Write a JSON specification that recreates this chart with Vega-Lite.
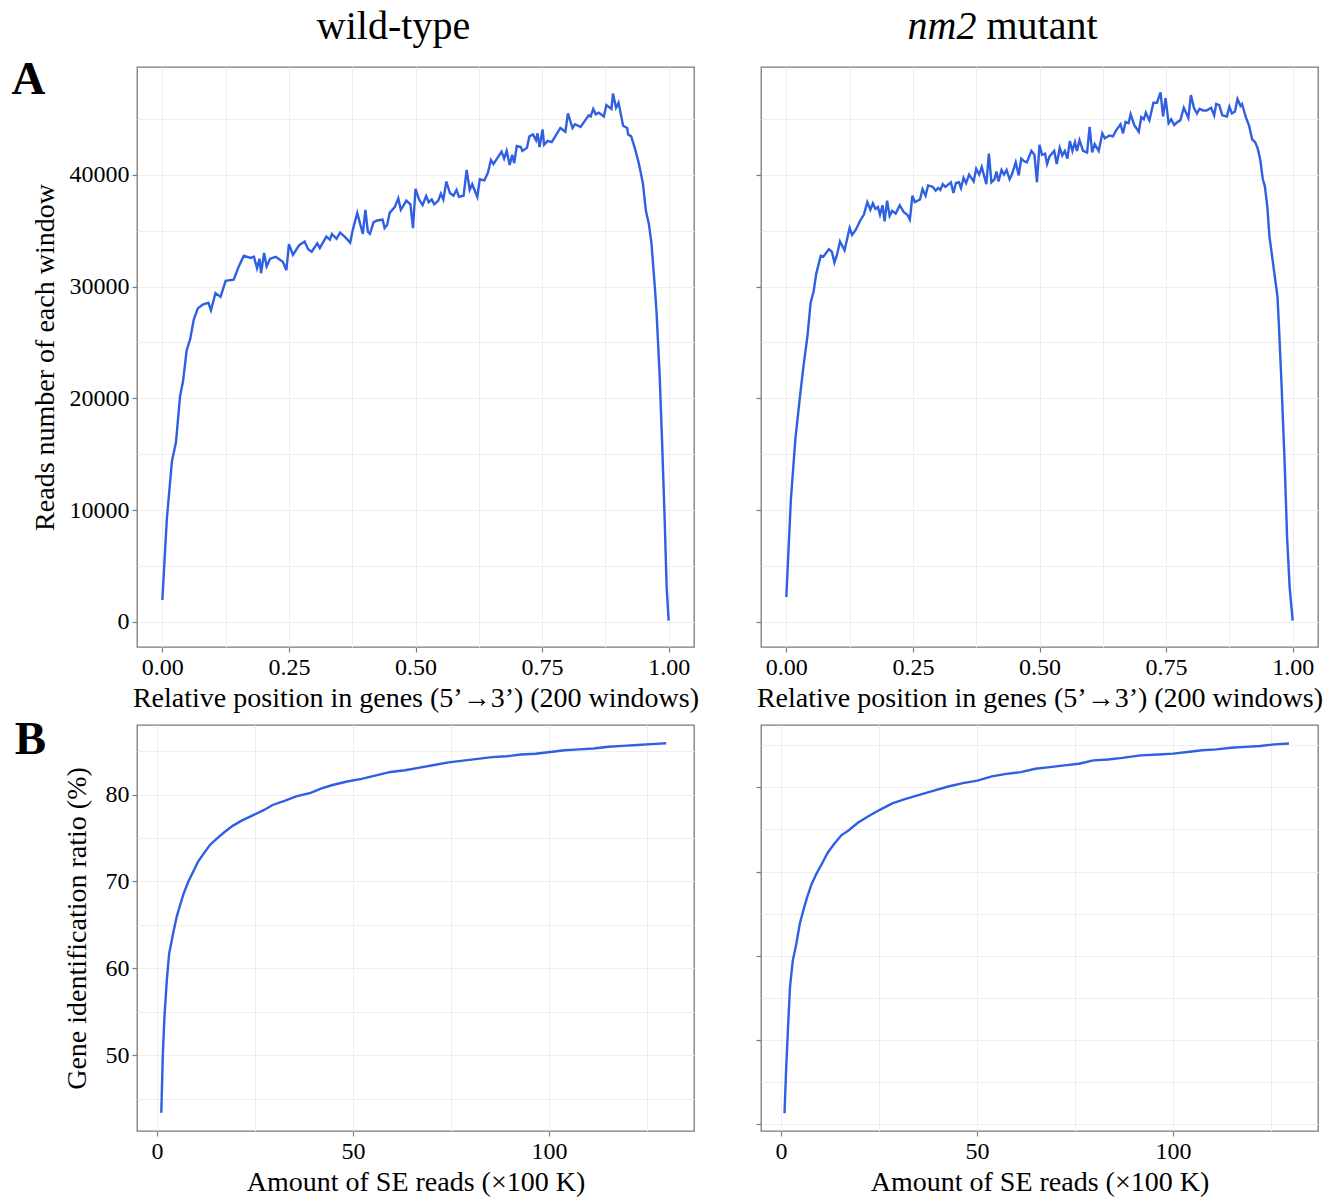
{
  "$schema": "https://vega.github.io/schema/vega-lite/v6.json",
  "padding": {"left": 10, "top": 5, "right": 5, "bottom": 5},
  "background": "white",
  "config": {
    "font": "Liberation Serif",
    "view": {"stroke": "#7a7a7a", "strokeWidth": 1.3},
    "axis": {"labelFont": "Liberation Serif", "titleFont": "Liberation Serif", "labelFontSize": 24, "titleFontSize": 28, "labelColor": "#000000", "titleColor": "#000000", "titleFontWeight": "normal", "tickColor": "#7a7a7a", "tickSize": 5, "tickWidth": 1.2, "domain": false, "grid": false, "labelPadding": 3, "gridColor": "#eeeeee", "gridWidth": 1},
    "line": {"color": "#2f5fe3", "strokeWidth": 2.4}
  },
  "datasets": {
    "wtA": [
      {"pos":0,"count":1950},{"pos":0.009,"count":9240},{"pos":0.019,"count":14370},{"pos":0.027,"count":16080},{"pos":0.035,"count":20180},{"pos":0.041,"count":21550},{"pos":0.048,"count":24290},{"pos":0.055,"count":25300},{"pos":0.062,"count":27030},{"pos":0.070,"count":28050},{"pos":0.080,"count":28390},{"pos":0.091,"count":28560},{"pos":0.096,"count":27880},{"pos":0.105,"count":29420},{"pos":0.115,"count":29080},{"pos":0.125,"count":30510},{"pos":0.141,"count":30620},{"pos":0.151,"count":31810},{"pos":0.161,"count":32770},{"pos":0.174,"count":32570},{"pos":0.181,"count":32670},{"pos":0.187,"count":31640},{"pos":0.192,"count":32500},{"pos":0.195,"count":31200},{"pos":0.201,"count":33010},{"pos":0.206,"count":31810},{"pos":0.213,"count":32500},{"pos":0.224,"count":32670},{"pos":0.238,"count":32220},{"pos":0.245,"count":31470},{"pos":0.250,"count":33800},{"pos":0.258,"count":32840},{"pos":0.270,"count":33700},{"pos":0.281,"count":34040},{"pos":0.288,"count":33350},{"pos":0.295,"count":33120},{"pos":0.306,"count":33870},{"pos":0.311,"count":33450},{"pos":0.324,"count":34480},{"pos":0.331,"count":34210},{"pos":0.335,"count":34720},{"pos":0.344,"count":34280},{"pos":0.351,"count":34830},{"pos":0.360,"count":34480},{"pos":0.371,"count":33940},{"pos":0.376,"count":35060},{"pos":0.385,"count":36600},{"pos":0.396,"count":34720},{"pos":0.401,"count":36880},{"pos":0.406,"count":34890},{"pos":0.410,"count":34720},{"pos":0.417,"count":35750},{"pos":0.424,"count":35920},{"pos":0.435,"count":35990},{"pos":0.439,"count":35240},{"pos":0.444,"count":35510},{"pos":0.449,"count":36600},{"pos":0.459,"count":37120},{"pos":0.466,"count":37900},{"pos":0.471,"count":36880},{"pos":0.482,"count":37700},{"pos":0.490,"count":37360},{"pos":0.495,"count":35240},{"pos":0.500,"count":38760},{"pos":0.507,"count":37800},{"pos":0.514,"count":37290},{"pos":0.521,"count":38110},{"pos":0.526,"count":37560},{"pos":0.532,"count":37800},{"pos":0.537,"count":37360},{"pos":0.545,"count":37700},{"pos":0.550,"count":38320},{"pos":0.555,"count":37800},{"pos":0.561,"count":39410},{"pos":0.568,"count":38380},{"pos":0.575,"count":38140},{"pos":0.581,"count":38660},{"pos":0.586,"count":38040},{"pos":0.595,"count":38140},{"pos":0.601,"count":40440},{"pos":0.607,"count":38660},{"pos":0.612,"count":39170},{"pos":0.622,"count":38040},{"pos":0.627,"count":39610},{"pos":0.636,"count":39510},{"pos":0.643,"count":40200},{"pos":0.649,"count":41330},{"pos":0.654,"count":40980},{"pos":0.661,"count":41460},{"pos":0.670,"count":42080},{"pos":0.675,"count":41460},{"pos":0.680,"count":42150},{"pos":0.686,"count":40880},{"pos":0.691,"count":41800},{"pos":0.695,"count":41050},{"pos":0.700,"count":42590},{"pos":0.708,"count":42490},{"pos":0.711,"count":42150},{"pos":0.720,"count":42420},{"pos":0.725,"count":43450},{"pos":0.732,"count":43620},{"pos":0.738,"count":43100},{"pos":0.741,"count":43720},{"pos":0.745,"count":42490},{"pos":0.751,"count":44060},{"pos":0.754,"count":42700},{"pos":0.761,"count":43040},{"pos":0.769,"count":42930},{"pos":0.776,"count":43450},{"pos":0.786,"count":44200},{"pos":0.796,"count":43860},{"pos":0.801,"count":45500},{"pos":0.810,"count":44200},{"pos":0.815,"count":44540},{"pos":0.826,"count":44300},{"pos":0.833,"count":44750},{"pos":0.842,"count":45330},{"pos":0.846,"count":45230},{"pos":0.851,"count":45910},{"pos":0.856,"count":45420},{"pos":0.862,"count":45570},{"pos":0.872,"count":45230},{"pos":0.877,"count":46250},{"pos":0.887,"count":45910},{"pos":0.890,"count":47280},{"pos":0.896,"count":46010},{"pos":0.901,"count":46460},{"pos":0.906,"count":45330},{"pos":0.910,"count":44400},{"pos":0.918,"count":44200},{"pos":0.920,"count":43620},{"pos":0.926,"count":43450},{"pos":0.933,"count":42420},{"pos":0.941,"count":41050},{"pos":0.949,"count":39270},{"pos":0.955,"count":36780},{"pos":0.961,"count":35580},{"pos":0.966,"count":33870},{"pos":0.973,"count":29760},{"pos":0.976,"count":27710},{"pos":0.982,"count":22240},{"pos":0.987,"count":16080},{"pos":0.992,"count":9240},{"pos":0.996,"count":3080},{"pos":1.000,"count":100}
    ],
    "mutA": [
      {"pos":0,"count":2220},{"pos":0.009,"count":10950},{"pos":0.018,"count":16420},{"pos":0.027,"count":20180},{"pos":0.034,"count":22920},{"pos":0.042,"count":25660},{"pos":0.048,"count":28560},{"pos":0.054,"count":29590},{"pos":0.059,"count":31130},{"pos":0.068,"count":32770},{"pos":0.073,"count":32670},{"pos":0.084,"count":33350},{"pos":0.090,"count":33120},{"pos":0.095,"count":32160},{"pos":0.100,"count":32840},{"pos":0.106,"count":34040},{"pos":0.115,"count":33250},{"pos":0.125,"count":35240},{"pos":0.130,"count":34620},{"pos":0.137,"count":35070},{"pos":0.146,"count":35920},{"pos":0.153,"count":36430},{"pos":0.160,"count":37560},{"pos":0.166,"count":36880},{"pos":0.171,"count":37460},{"pos":0.176,"count":36950},{"pos":0.181,"count":37120},{"pos":0.185,"count":36430},{"pos":0.190,"count":37290},{"pos":0.194,"count":35850},{"pos":0.199,"count":37700},{"pos":0.204,"count":36330},{"pos":0.209,"count":36780},{"pos":0.216,"count":36540},{"pos":0.224,"count":37290},{"pos":0.232,"count":36670},{"pos":0.239,"count":36430},{"pos":0.244,"count":35990},{"pos":0.249,"count":38140},{"pos":0.254,"count":37560},{"pos":0.264,"count":37800},{"pos":0.269,"count":38730},{"pos":0.275,"count":38140},{"pos":0.280,"count":39060},{"pos":0.289,"count":38930},{"pos":0.295,"count":38590},{"pos":0.300,"count":38830},{"pos":0.304,"count":38660},{"pos":0.309,"count":39170},{"pos":0.314,"count":38930},{"pos":0.325,"count":39340},{"pos":0.330,"count":38380},{"pos":0.335,"count":39270},{"pos":0.341,"count":39340},{"pos":0.345,"count":38830},{"pos":0.350,"count":39750},{"pos":0.355,"count":39270},{"pos":0.361,"count":40030},{"pos":0.370,"count":39410},{"pos":0.375,"count":40540},{"pos":0.381,"count":40030},{"pos":0.386,"count":40710},{"pos":0.395,"count":39170},{"pos":0.400,"count":41910},{"pos":0.405,"count":39340},{"pos":0.411,"count":39610},{"pos":0.415,"count":40300},{"pos":0.419,"count":39410},{"pos":0.425,"count":40440},{"pos":0.430,"count":40030},{"pos":0.435,"count":40440},{"pos":0.441,"count":39610},{"pos":0.446,"count":40100},{"pos":0.453,"count":41120},{"pos":0.459,"count":39960},{"pos":0.464,"count":41460},{"pos":0.470,"count":41220},{"pos":0.475,"count":41120},{"pos":0.484,"count":42150},{"pos":0.490,"count":41800},{"pos":0.495,"count":39340},{"pos":0.500,"count":42690},{"pos":0.505,"count":41800},{"pos":0.511,"count":41910},{"pos":0.515,"count":40980},{"pos":0.520,"count":41670},{"pos":0.529,"count":42150},{"pos":0.534,"count":40980},{"pos":0.540,"count":42420},{"pos":0.545,"count":41740},{"pos":0.550,"count":42150},{"pos":0.555,"count":41460},{"pos":0.560,"count":43040},{"pos":0.565,"count":42150},{"pos":0.570,"count":42930},{"pos":0.574,"count":42150},{"pos":0.579,"count":43110},{"pos":0.586,"count":42150},{"pos":0.594,"count":42010},{"pos":0.599,"count":44300},{"pos":0.604,"count":42010},{"pos":0.609,"count":42760},{"pos":0.617,"count":42150},{"pos":0.624,"count":43720},{"pos":0.629,"count":43280},{"pos":0.638,"count":43520},{"pos":0.645,"count":43450},{"pos":0.651,"count":43960},{"pos":0.660,"count":44540},{"pos":0.665,"count":43720},{"pos":0.670,"count":44750},{"pos":0.676,"count":44640},{"pos":0.680,"count":45430},{"pos":0.687,"count":44470},{"pos":0.696,"count":43860},{"pos":0.701,"count":45160},{"pos":0.706,"count":44980},{"pos":0.710,"count":45570},{"pos":0.717,"count":44880},{"pos":0.725,"count":46460},{"pos":0.732,"count":46460},{"pos":0.739,"count":47380},{"pos":0.744,"count":45230},{"pos":0.749,"count":46870},{"pos":0.755,"count":44640},{"pos":0.760,"count":44980},{"pos":0.766,"count":44470},{"pos":0.773,"count":44750},{"pos":0.778,"count":44880},{"pos":0.785,"count":46010},{"pos":0.794,"count":45090},{"pos":0.799,"count":47140},{"pos":0.805,"count":46010},{"pos":0.811,"count":45500},{"pos":0.816,"count":45910},{"pos":0.823,"count":45770},{"pos":0.830,"count":45770},{"pos":0.839,"count":46010},{"pos":0.845,"count":45330},{"pos":0.849,"count":46360},{"pos":0.855,"count":46250},{"pos":0.861,"count":45330},{"pos":0.870,"count":45230},{"pos":0.875,"count":46110},{"pos":0.880,"count":45500},{"pos":0.886,"count":45670},{"pos":0.891,"count":46800},{"pos":0.897,"count":46180},{"pos":0.900,"count":46350},{"pos":0.907,"count":45230},{"pos":0.914,"count":44400},{"pos":0.920,"count":43170},{"pos":0.926,"count":42930},{"pos":0.931,"count":42350},{"pos":0.936,"count":41330},{"pos":0.941,"count":39610},{"pos":0.945,"count":39000},{"pos":0.950,"count":37120},{"pos":0.954,"count":34550},{"pos":0.959,"count":32840},{"pos":0.964,"count":31130},{"pos":0.970,"count":29080},{"pos":0.973,"count":26340},{"pos":0.978,"count":21210},{"pos":0.984,"count":14370},{"pos":0.989,"count":7530},{"pos":0.994,"count":3080},{"pos":1.000,"count":100}
    ],
    "wtB": [
      {"reads":1.1,"ratio":43.4},{"reads":1.5,"ratio":50.2},{"reads":1.9,"ratio":54.4},{"reads":2.5,"ratio":58.6},{"reads":3.1,"ratio":61.7},{"reads":4.1,"ratio":64.0},{"reads":5.0,"ratio":65.9},{"reads":5.9,"ratio":67.3},{"reads":6.8,"ratio":68.6},{"reads":8.0,"ratio":70.0},{"reads":9.2,"ratio":71.1},{"reads":10.5,"ratio":72.3},{"reads":11.9,"ratio":73.2},{"reads":13.5,"ratio":74.2},{"reads":15.2,"ratio":74.9},{"reads":17.0,"ratio":75.6},{"reads":19.3,"ratio":76.4},{"reads":21.6,"ratio":77.0},{"reads":24.4,"ratio":77.6},{"reads":27.2,"ratio":78.2},{"reads":29.5,"ratio":78.8},{"reads":32.7,"ratio":79.3},{"reads":35.5,"ratio":79.8},{"reads":39.2,"ratio":80.2},{"reads":42.0,"ratio":80.7},{"reads":44.8,"ratio":81.1},{"reads":48.5,"ratio":81.5},{"reads":52.2,"ratio":81.8},{"reads":55.9,"ratio":82.2},{"reads":59.6,"ratio":82.6},{"reads":63.3,"ratio":82.8},{"reads":67.0,"ratio":83.1},{"reads":70.7,"ratio":83.4},{"reads":74.4,"ratio":83.7},{"reads":78.1,"ratio":83.9},{"reads":81.8,"ratio":84.1},{"reads":85.5,"ratio":84.3},{"reads":89.2,"ratio":84.4},{"reads":92.9,"ratio":84.6},{"reads":96.6,"ratio":84.7},{"reads":100.3,"ratio":84.9},{"reads":104.0,"ratio":85.1},{"reads":107.7,"ratio":85.2},{"reads":111.4,"ratio":85.3},{"reads":115.1,"ratio":85.5},{"reads":118.8,"ratio":85.6},{"reads":122.5,"ratio":85.7},{"reads":126.2,"ratio":85.8},{"reads":129.9,"ratio":85.9}
    ],
    "mutB": [
      {"reads":0.9,"ratio":41.3},{"reads":1.3,"ratio":46.4},{"reads":1.8,"ratio":51.5},{"reads":2.3,"ratio":56.3},{"reads":3.0,"ratio":59.4},{"reads":3.9,"ratio":61.4},{"reads":4.8,"ratio":63.8},{"reads":5.7,"ratio":65.4},{"reads":6.7,"ratio":67.0},{"reads":7.8,"ratio":68.5},{"reads":9.0,"ratio":69.7},{"reads":10.4,"ratio":70.9},{"reads":12.0,"ratio":72.3},{"reads":13.6,"ratio":73.3},{"reads":15.4,"ratio":74.3},{"reads":17.3,"ratio":74.9},{"reads":19.6,"ratio":75.8},{"reads":22.4,"ratio":76.6},{"reads":25.1,"ratio":77.3},{"reads":28.4,"ratio":78.1},{"reads":31.6,"ratio":78.6},{"reads":35.3,"ratio":79.1},{"reads":39.0,"ratio":79.6},{"reads":42.7,"ratio":80.1},{"reads":46.4,"ratio":80.5},{"reads":50.1,"ratio":80.8},{"reads":53.8,"ratio":81.3},{"reads":57.5,"ratio":81.6},{"reads":61.2,"ratio":81.8},{"reads":64.9,"ratio":82.2},{"reads":68.6,"ratio":82.4},{"reads":72.3,"ratio":82.6},{"reads":76.0,"ratio":82.8},{"reads":79.7,"ratio":83.2},{"reads":83.4,"ratio":83.3},{"reads":87.1,"ratio":83.5},{"reads":91.7,"ratio":83.8},{"reads":96.3,"ratio":83.9},{"reads":100.0,"ratio":84.0},{"reads":103.7,"ratio":84.2},{"reads":107.4,"ratio":84.4},{"reads":111.1,"ratio":84.5},{"reads":114.8,"ratio":84.7},{"reads":118.5,"ratio":84.8},{"reads":122.2,"ratio":84.9},{"reads":125.9,"ratio":85.1},{"reads":129.6,"ratio":85.2}
    ]
  },
  "columns": 2,
  "bounds": "flush",
  "spacing": {"column": 67, "row": 78},
  "concat": [
    {
      "width": 557, "height": 580,
      "data": {"name": "wtA"},
      "resolve": {"axis": {"x": "independent", "y": "independent"}},
      "layer": [
        {
          "mark": {"type": "line"},
          "encoding": {
            "x": {"field": "pos", "type": "quantitative", "scale": {"domain": [-0.05, 1.05], "nice": false, "zero": false},
                  "axis": {"orient": "bottom", "values": [0, 0.25, 0.5, 0.75, 1], "format": ".2f", "title": "Relative position in genes (5’→3’) (200 windows)", "titlePadding": 5}},
            "y": {"field": "count", "type": "quantitative", "scale": {"domain": [-2260, 49660], "nice": false, "zero": false},
                  "axis": {"orient": "left", "values": [0, 10000, 20000, 30000, 40000], "format": "d", "title": "Reads number of each window", "titlePadding": 10}}
          }
        },
        {
          "mark": {"type": "line", "opacity": 0},
          "encoding": {
            "x": {"field": "pos", "type": "quantitative", "scale": {"domain": [-0.05, 1.05], "nice": false, "zero": false},
                  "axis": {"orient": "top", "labels": false, "ticks": false, "domain": false, "grid": true, "values": [0, 0.125, 0.25, 0.375, 0.5, 0.625, 0.75, 0.875, 1],
                           "title": "wild-type", "titleX": 256, "titleY": -29, "titleAlign": "center", "titleBaseline": "alphabetic", "titleFontSize": 40, "titleAngle": 0}},
            "y": {"field": "count", "type": "quantitative", "scale": {"domain": [-2260, 49660], "nice": false, "zero": false},
                  "axis": {"orient": "left", "labels": false, "ticks": false, "domain": false, "grid": true, "values": [0, 5000, 10000, 15000, 20000, 25000, 30000, 35000, 40000, 45000],
                           "title": "A", "titleX": -109, "titleY": 26, "titleAngle": 0, "titleAlign": "center", "titleBaseline": "alphabetic", "titleFontSize": 47, "titleFontWeight": "bold"}}
          }
        }
      ]
    },
    {
      "width": 557, "height": 580,
      "data": {"name": "mutA"},
      "resolve": {"axis": {"x": "independent", "y": "independent"}},
      "layer": [
        {
          "mark": {"type": "line"},
          "encoding": {
            "x": {"field": "pos", "type": "quantitative", "scale": {"domain": [-0.05, 1.05], "nice": false, "zero": false},
                  "axis": {"orient": "bottom", "values": [0, 0.25, 0.5, 0.75, 1], "format": ".2f", "title": "Relative position in genes (5’→3’) (200 windows)", "titlePadding": 5}},
            "y": {"field": "count", "type": "quantitative", "scale": {"domain": [-2260, 49660], "nice": false, "zero": false},
                  "axis": {"orient": "left", "values": [0, 10000, 20000, 30000, 40000], "labels": false, "title": null}}
          }
        },
        {
          "mark": {"type": "line", "opacity": 0},
          "encoding": {
            "x": {"field": "pos", "type": "quantitative", "scale": {"domain": [-0.05, 1.05], "nice": false, "zero": false},
                  "axis": {"orient": "top", "labels": false, "ticks": false, "domain": false, "grid": true, "values": [0, 0.125, 0.25, 0.375, 0.5, 0.625, 0.75, 0.875, 1],
                           "title": "nm2", "titleX": 215, "titleY": -29, "titleAlign": "right", "titleBaseline": "alphabetic", "titleFontSize": 40, "titleFontStyle": "italic", "titleAngle": 0}},
            "y": {"field": "count", "type": "quantitative", "scale": {"domain": [-2260, 49660], "nice": false, "zero": false},
                  "axis": {"orient": "left", "labels": false, "ticks": false, "domain": false, "grid": true, "values": [0, 5000, 10000, 15000, 20000, 25000, 30000, 35000, 40000, 45000], "title": null}}
          }
        },
        {
          "mark": {"type": "line", "opacity": 0},
          "encoding": {
            "x": {"field": "pos", "type": "quantitative", "scale": {"domain": [-0.05, 1.05], "nice": false, "zero": false},
                  "axis": {"orient": "top", "labels": false, "ticks": false, "domain": false, "grid": false,
                           "title": "mutant", "titleX": 225, "titleY": -29, "titleAlign": "left", "titleBaseline": "alphabetic", "titleFontSize": 40, "titleAngle": 0}},
            "y": {"field": "count", "type": "quantitative", "scale": {"domain": [-2260, 49660], "nice": false, "zero": false}, "axis": null}
          }
        }
      ]
    },
    {
      "width": 557, "height": 406,
      "data": {"name": "wtB"},
      "resolve": {"axis": {"x": "independent", "y": "independent"}},
      "layer": [
        {
          "mark": {"type": "line"},
          "encoding": {
            "x": {"field": "reads", "type": "quantitative", "scale": {"domain": [-5.1, 137], "nice": false, "zero": false},
                  "axis": {"orient": "bottom", "values": [0, 50, 100], "title": "Amount of SE reads (×100 K)", "titlePadding": 5}},
            "y": {"field": "ratio", "type": "quantitative", "scale": {"domain": [41.3, 88.0], "nice": false, "zero": false},
                  "axis": {"orient": "left", "values": [50, 60, 70, 80], "title": "Gene identification ratio (%)", "titlePadding": 14}}
          }
        },
        {
          "mark": {"type": "line", "opacity": 0},
          "encoding": {
            "x": {"field": "reads", "type": "quantitative", "scale": {"domain": [-5.1, 137], "nice": false, "zero": false},
                  "axis": {"orient": "bottom", "labels": false, "ticks": false, "domain": false, "grid": true, "values": [0, 25, 50, 75, 100, 125], "title": null}},
            "y": {"field": "ratio", "type": "quantitative", "scale": {"domain": [41.3, 88.0], "nice": false, "zero": false},
                  "axis": {"orient": "left", "labels": false, "ticks": false, "domain": false, "grid": true, "values": [45, 50, 55, 60, 65, 70, 75, 80, 85],
                           "title": "B", "titleX": -107, "titleY": 28, "titleAngle": 0, "titleAlign": "center", "titleBaseline": "alphabetic", "titleFontSize": 47, "titleFontWeight": "bold"}}
          }
        }
      ]
    },
    {
      "width": 557, "height": 406,
      "data": {"name": "mutB"},
      "resolve": {"axis": {"x": "independent", "y": "independent"}},
      "layer": [
        {
          "mark": {"type": "line"},
          "encoding": {
            "x": {"field": "reads", "type": "quantitative", "scale": {"domain": [-5.1, 137], "nice": false, "zero": false},
                  "axis": {"orient": "bottom", "values": [0, 50, 100], "title": "Amount of SE reads (×100 K)", "titlePadding": 5}},
            "y": {"field": "ratio", "type": "quantitative", "scale": {"domain": [39.2, 87.4], "nice": false, "zero": false},
                  "axis": {"orient": "left", "values": [40, 50, 60, 70, 80], "labels": false, "title": null}}
          }
        },
        {
          "mark": {"type": "line", "opacity": 0},
          "encoding": {
            "x": {"field": "reads", "type": "quantitative", "scale": {"domain": [-5.1, 137], "nice": false, "zero": false},
                  "axis": {"orient": "bottom", "labels": false, "ticks": false, "domain": false, "grid": true, "values": [0, 25, 50, 75, 100, 125], "title": null}},
            "y": {"field": "ratio", "type": "quantitative", "scale": {"domain": [39.2, 87.4], "nice": false, "zero": false},
                  "axis": {"orient": "left", "labels": false, "ticks": false, "domain": false, "grid": true, "values": [40, 45, 50, 55, 60, 65, 70, 75, 80, 85], "title": null}}
          }
        }
      ]
    }
  ]
}
